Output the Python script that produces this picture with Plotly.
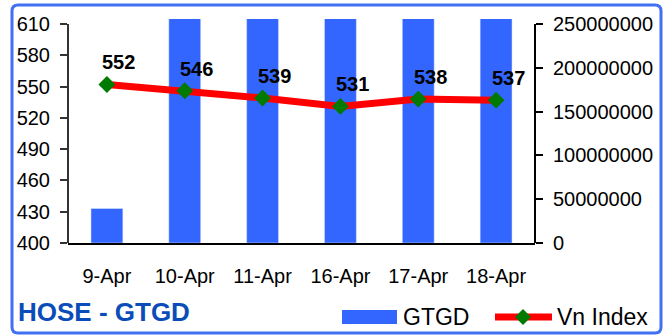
import plotly.graph_objects as go

# ---- data ----
dates = ["9-Apr", "10-Apr", "11-Apr", "16-Apr", "17-Apr", "18-Apr"]
gtgd = [39500000, 283000000, 276000000, 291000000, 268000000, 274000000]
vn_index = [552, 546, 539, 531, 538, 537]

left_ticks = [400, 430, 460, 490, 520, 550, 580, 610]
right_ticks = [0, 50000000, 100000000, 150000000, 200000000, 250000000]

W, H = 667, 335
PL, PR, PT, PB = 68, 535, 19, 243          # plot area in pixels
AXIS_TOP = 24                               # pixel row of the top tick

FONT = "Liberation Sans, Arial, sans-serif"
BLUE_BAR = "#3366FF"
FRAME = "#4170F2"

# axis ranges chosen so the top tick lands a few pixels below the plot top
left_span = (left_ticks[-1] - left_ticks[0]) * (PB - PT) / (PB - AXIS_TOP)
right_span = (right_ticks[-1] - right_ticks[0]) * (PB - PT) / (PB - AXIS_TOP)
left_range = [left_ticks[0], left_ticks[0] + left_span]
right_range = [right_ticks[0], right_ticks[0] + right_span]


def px_x(p):
    return (p - PL) / (PR - PL)


def px_y(p):
    return (PB - p) / (PB - PT)


fig = go.Figure()

fig.add_trace(go.Bar(
    x=dates, y=gtgd, name="GTGD", marker_color=BLUE_BAR,
    width=0.41, yaxis="y", showlegend=False,
))
fig.add_trace(go.Scatter(
    x=dates, y=vn_index, name="Vn Index", mode="lines+markers",
    line=dict(color="#FF0000", width=7),
    marker=dict(symbol="diamond", size=13, color="#007A00"),
    yaxis="y2", showlegend=False, cliponaxis=False,
))

# value labels above the index points
for d, v in zip(dates, vn_index):
    fig.add_annotation(
        x=d, y=v, xref="x", yref="y2", text=f"<b>{v}</b>", showarrow=False,
        xshift=12, yshift=22, font=dict(family=FONT, size=20, color="black"),
    )

tick_font = dict(family=FONT, size=20, color="black")

shapes = []
# axis lines that stop at the top tick
shapes.append(dict(type="line", xref="paper", yref="y2", x0=0, x1=0,
                   y0=left_ticks[0], y1=left_ticks[-1],
                   line=dict(color="#333333", width=2)))
shapes.append(dict(type="line", xref="paper", yref="y", x0=1, x1=1,
                   y0=right_ticks[0], y1=right_ticks[-1],
                   line=dict(color="black", width=2)))

# rounded outer frame
x0, x1, y0, y1 = px_x(12), px_x(661), px_y(5), px_y(333)
rx = 6 / (PR - PL)
ry = 6 / (PB - PT)
frame_path = (
    f"M{x0 + rx},{y0} L{x1 - rx},{y0} Q{x1},{y0} {x1},{y0 - ry} "
    f"L{x1},{y1 + ry} Q{x1},{y1} {x1 - rx},{y1} "
    f"L{x0 + rx},{y1} Q{x0},{y1} {x0},{y1 + ry} "
    f"L{x0},{y0 - ry} Q{x0},{y0} {x0 + rx},{y0} Z"
)
shapes.append(dict(type="path", xref="paper", yref="paper", path=frame_path,
                   line=dict(color=FRAME, width=3), layer="above"))

# legend: bar swatch
shapes.append(dict(type="rect", xref="paper", yref="paper",
                   x0=px_x(342), x1=px_x(397), y0=px_y(324), y1=px_y(310),
                   fillcolor=BLUE_BAR, line=dict(width=0)))
# legend: line with diamond
shapes.append(dict(type="line", xref="paper", yref="paper",
                   x0=px_x(495), x1=px_x(552), y0=px_y(317), y1=px_y(317),
                   line=dict(color="#FF0000", width=7)))
cx, cy, hw = 523, 317, 8
diamond = (f"M{px_x(cx - hw)},{px_y(cy)} L{px_x(cx)},{px_y(cy - hw)} "
           f"L{px_x(cx + hw)},{px_y(cy)} L{px_x(cx)},{px_y(cy + hw)} Z")
shapes.append(dict(type="path", xref="paper", yref="paper", path=diamond,
                   fillcolor="#007A00", line=dict(width=0)))

fig.add_annotation(x=px_x(401), y=px_y(317), xref="paper", yref="paper",
                   text="GTGD", showarrow=False, xanchor="left", yanchor="middle",
                   font=dict(family=FONT, size=23, color="black"))
fig.add_annotation(x=px_x(555), y=px_y(317), xref="paper", yref="paper",
                   text="Vn Index", showarrow=False, xanchor="left", yanchor="middle",
                   font=dict(family=FONT, size=23, color="black"))
fig.add_annotation(x=px_x(16), y=px_y(312), xref="paper", yref="paper",
                   text="<b>HOSE - GTGD</b>", showarrow=False,
                   xanchor="left", yanchor="middle",
                   font=dict(family=FONT, size=26, color="#0B4DB8"))

fig.update_layout(
    width=W, height=H,
    margin=dict(l=PL, r=W - PR, t=PT, b=H - PB, pad=0),
    paper_bgcolor="white", plot_bgcolor="white",
    showlegend=False,
    bargap=0.59,
    xaxis=dict(
        type="category", range=[-0.5, len(dates) - 0.5],
        showline=True, linecolor="black", linewidth=2,
        ticks="", showgrid=False, zeroline=False,
        tickfont=tick_font, ticklabelstandoff=14,
    ),
    # right axis (bars)
    yaxis=dict(
        side="right", range=right_range, tickvals=right_ticks,
        ticktext=[str(v) for v in right_ticks],
        ticks="outside", ticklen=7, tickwidth=2, tickcolor="black",
        showline=False, showgrid=False, zeroline=False,
        tickfont=tick_font, ticklabelstandoff=6,
    ),
    # left axis (index)
    yaxis2=dict(
        side="left", overlaying="y", range=left_range, tickvals=left_ticks,
        ticks="outside", ticklen=7, tickwidth=2, tickcolor="#333333",
        showline=False, showgrid=False, zeroline=False,
        tickfont=tick_font, ticklabelstandoff=6,
    ),
    # inner halves of the crossing tick marks
    yaxis3=dict(
        side="left", overlaying="y", range=left_range, tickvals=left_ticks,
        ticks="inside", ticklen=7, tickwidth=2, tickcolor="#333333",
        showticklabels=False, showline=False, showgrid=False, zeroline=False,
    ),
    yaxis4=dict(
        side="right", overlaying="y", range=right_range, tickvals=right_ticks,
        ticks="inside", ticklen=7, tickwidth=2, tickcolor="black",
        showticklabels=False, showline=False, showgrid=False, zeroline=False,
    ),
    shapes=shapes,
)

fig.write_html("out.html")
